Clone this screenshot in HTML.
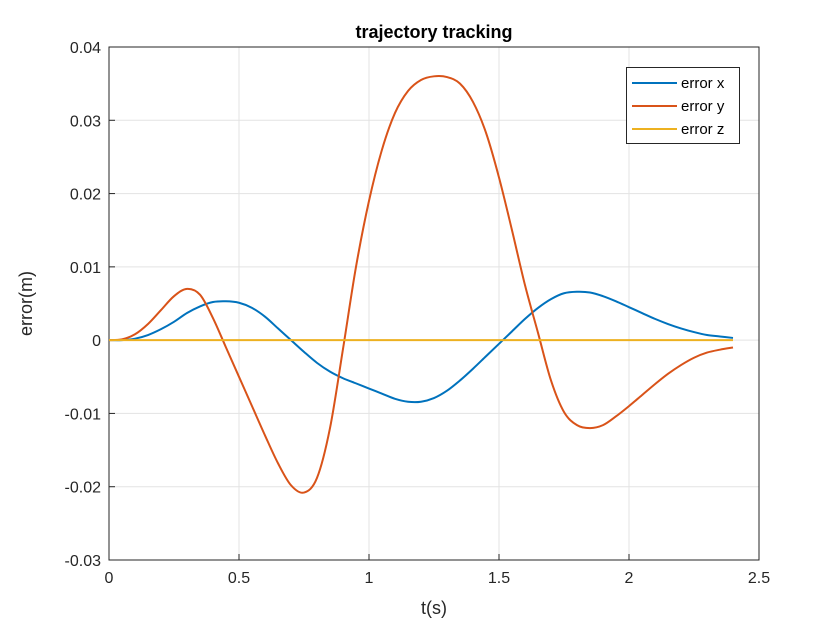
<!DOCTYPE html>
<html><head><meta charset="utf-8"><style>
body{margin:0;background:#fff;}
svg{display:block;font-family:"Liberation Sans",sans-serif;}
</style></head><body>
<svg id="chart" width="840" height="630"></svg>
<script>
const times=[0,0.05,0.1,0.15,0.2,0.25,0.3,0.35,0.4,0.45,0.5,0.55,0.6,0.65,0.7,0.75,0.8,0.85,0.9,0.95,1.0,1.05,1.1,1.15,1.2,1.25,1.3,1.35,1.4,1.45,1.5,1.55,1.6,1.65,1.7,1.75,1.8,1.85,1.9,1.95,2.0,2.05,2.1,2.15,2.2,2.25,2.3,2.35,2.4];
const errorX=[0,0,0.0002,0.0007,0.0015,0.0025,0.0037,0.0046,0.0052,0.0053,0.0051,0.0044,0.0032,0.0016,0.0000,-0.0016,-0.0031,-0.0043,-0.0052,-0.0059,-0.0066,-0.0073,-0.0080,-0.0084,-0.0084,-0.0079,-0.0069,-0.0055,-0.0039,-0.0022,-0.0005,0.0012,0.0029,0.0044,0.0056,0.0064,0.0066,0.0065,0.0060,0.0053,0.0045,0.0037,0.0029,0.0022,0.0016,0.0011,0.0007,0.0005,0.0003];
const errorY=[0,0.0001,0.0008,0.0022,0.0041,0.0060,0.0070,0.0062,0.0030,-0.0010,-0.0050,-0.0090,-0.0130,-0.0168,-0.0198,-0.0208,-0.0188,-0.0120,-0.0012,0.0100,0.0190,0.0260,0.0310,0.0340,0.0355,0.0360,0.0359,0.0350,0.0325,0.0283,0.0222,0.0150,0.0075,0.0010,-0.0055,-0.0098,-0.0116,-0.0120,-0.0116,-0.0104,-0.0090,-0.0075,-0.0060,-0.0046,-0.0034,-0.0024,-0.0017,-0.0013,-0.0010];
const errorZ=times.map(()=>0);
const xTicks=[0,0.5,1,1.5,2,2.5];
const xTickLabels=["0","0.5","1","1.5","2","2.5"];
const yTicks=[-0.03,-0.02,-0.01,0,0.01,0.02,0.03,0.04];
const yTickLabels=["-0.03","-0.02","-0.01","0","0.01","0.02","0.03","0.04"];
const seriesNames=["error x","error y","error z"];
const colors=["#0072BD","#D95319","#EDB120"];

const L=109,R=759,T=47,B=560;
const sx=v=>L+(v-0)/(2.5-0)*(R-L);
const sy=v=>B-(v+0.03)/(0.07)*(B-T);
const svg=document.getElementById('chart');
const NS='http://www.w3.org/2000/svg';
function mk(tag,attrs,parent){const e=document.createElementNS(NS,tag);for(const k in attrs)e.setAttribute(k,attrs[k]);(parent||svg).appendChild(e);return e;}

const grid=mk('g',{});


xTicks.forEach((t,i)=>{
  const l=mk('line',{x1:sx(t),x2:sx(t),y1:T,y2:B,stroke:'#e3e3e3','stroke-width':1},grid);
  
  
  const tk=mk('line',{x1:sx(t),x2:sx(t),y1:B,y2:B-6,stroke:'#262626'});
  
  
  const tx=mk('text',{x:sx(t),y:B+23,'text-anchor':'middle','font-size':16,fill:'#262626'});
  tx.textContent=xTickLabels[i];
  
  
});
yTicks.forEach((t,i)=>{
  const l=mk('line',{x1:L,x2:R,y1:sy(t),y2:sy(t),stroke:'#e3e3e3','stroke-width':1},grid);
  
  
  const tk=mk('line',{x1:L,x2:L+6,y1:sy(t),y2:sy(t),stroke:'#262626'});
  
  
  const tx=mk('text',{x:L-8,y:sy(t)+6,'text-anchor':'end','font-size':16,fill:'#262626'});
  tx.textContent=yTickLabels[i];
  
  
});
const box=mk('rect',{x:L,y:T,width:R-L,height:B-T,fill:'none',stroke:'#262626','stroke-width':1});



function smoothPath(pts){
  let d='M'+pts[0][0].toFixed(2)+' '+pts[0][1].toFixed(2);
  for(let i=0;i<pts.length-1;i++){
    const p0=pts[Math.max(0,i-1)],p1=pts[i],p2=pts[i+1],p3=pts[Math.min(pts.length-1,i+2)];
    const c1x=p1[0]+(p2[0]-p0[0])/6,c1y=p1[1]+(p2[1]-p0[1])/6;
    const c2x=p2[0]-(p3[0]-p1[0])/6,c2y=p2[1]-(p3[1]-p1[1])/6;
    d+=' C'+c1x.toFixed(2)+' '+c1y.toFixed(2)+' '+c2x.toFixed(2)+' '+c2y.toFixed(2)+' '+p2[0].toFixed(2)+' '+p2[1].toFixed(2);
  }
  return d;
}
[errorX,errorY,errorZ].forEach((s,k)=>{
  const pts=s.map((v,i)=>[sx(times[i]),sy(v)]);
  const p=mk('path',{d:smoothPath(pts),fill:'none',stroke:colors[k],'stroke-width':2,'stroke-linejoin':'round'});
  
  
});

const lg=mk('g',{});


mk('rect',{x:626.5,y:67.5,width:113,height:76,fill:'#fff',stroke:'#262626','stroke-width':1},lg);
seriesNames.forEach((n,k)=>{
  const y=83+k*23;
  const ln=mk('line',{x1:632,x2:677,y1:y,y2:y,stroke:colors[k],'stroke-width':2},lg);
  
  
  const t=mk('text',{x:681,y:y+5,'font-size':15,fill:'#000'},lg);
  t.textContent=n;
  
  
});

const title=mk('text',{x:(L+R)/2,y:38,'text-anchor':'middle','font-size':18,'font-weight':'bold',fill:'#000'});
title.textContent='trajectory tracking';


const xl=mk('text',{x:(L+R)/2,y:614,'text-anchor':'middle','font-size':18,fill:'#262626'});
xl.textContent='t(s)';


const yl=mk('text',{x:0,y:0,'text-anchor':'middle','font-size':18,fill:'#262626',transform:'translate(32,'+((T+B)/2)+') rotate(-90)'});
yl.textContent='error(m)';


</script>
</body></html>
